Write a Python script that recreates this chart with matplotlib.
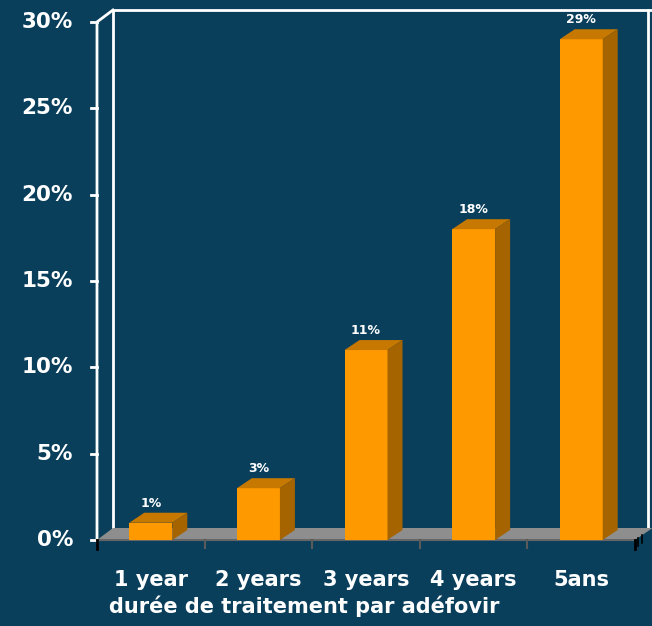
import matplotlib
matplotlib.use("Agg")
import matplotlib.pyplot as plt
from matplotlib.patches import Polygon, Rectangle

categories = ["1 year", "2 years", "3 years", "4 years", "5ans"]
values = [1, 3, 11, 18, 29]
value_labels = ["1%", "3%", "11%", "18%", "29%"]
yticks = [0, 5, 10, 15, 20, 25, 30]
xlabel = "durée de traitement par adéfovir"

bg = "#0a3f5c"
orange = "#ff9900"
orange_top = "#c77800"
orange_side = "#a56400"
floor_c = "#8e8e8e"

# pixel -> data mapping (category width 107.6 px, 1% = 17.27 px)
PX = 107.6
PY = 17.267
X0 = 150.8
Y0 = 540

fig = plt.figure(figsize=(6.52, 6.26), dpi=100, facecolor=bg)
ax = fig.add_axes([0, 0, 1, 1])
ax.set_facecolor(bg)
ax.set_xlim((0 - X0) / PX, (652 - X0) / PX)
ax.set_ylim((Y0 - 626) / PY, Y0 / PY)
ax.axis("off")

n = len(categories)
left, right = -0.5, n - 0.5
ymax = yticks[-1]
wx, wy = 16 / PX, 12 / PY       # wall depth
bw = 43 / PX                     # bar width
dx, dy = 15 / PX, 10 / PY        # bar depth

# back wall outline
ax.plot([left + wx, left + wx, 10], [wy, ymax + wy, ymax + wy], color="white", lw=2)
ax.plot([right + wx * 0.8, right + wx * 0.8], [wy, ymax + wy], color="white", lw=2)
# side wall / y axis
ax.plot([left, left, left + wx], [0, ymax, ymax + wy], color="white", lw=2)

# floor
ax.add_patch(Polygon([(left, 0), (right, 0), (right + wx * 1.1, wy), (left + wx, wy)],
                     closed=True, facecolor=floor_c, edgecolor="none", zorder=2))
ax.plot([left, right], [0, 0], color="#666666", lw=1.5, zorder=3)
for b in range(1, n):
    ax.plot([b - 0.5, b - 0.5], [0, -8 / PY], color="#5a5a5a", lw=1.5, zorder=3)
for b in [left, right]:
    ax.plot([b, b], [0, -9 / PY], color="black", lw=2, zorder=3)
ax.plot([right + 3 / PX, right + 3 / PX], [2 / PY, -6 / PY], color="black", lw=1.2, zorder=3)
ax.plot([right + 7 / PX, right + 7 / PX], [5 / PY, -3 / PY], color="black", lw=1.2, zorder=3)

# y ticks and labels
for t in yticks:
    ax.plot([left - 6 / PX, left], [t, t], color="white", lw=2)
    ax.text((73 - X0) / PX, t, f"{t}%", color="white", fontsize=15.5,
            fontweight="bold", ha="right", va="center")

# bars
for i, v in enumerate(values):
    x1, x2 = i - bw / 2, i + bw / 2
    ax.add_patch(Rectangle((x1, 0), bw, v, facecolor=orange, edgecolor="none", zorder=4))
    ax.add_patch(Polygon([(x1, v), (x2, v), (x2 + dx, v + dy), (x1 + dx, v + dy)],
                         closed=True, facecolor=orange_top, edgecolor="none", zorder=4))
    ax.add_patch(Polygon([(x2, 0), (x2 + dx, dy), (x2 + dx, v + dy), (x2, v)],
                         closed=True, facecolor=orange_side, edgecolor="none", zorder=4))
    ax.text(i, v + dy + 3 / PY, value_labels[i], color="white", fontsize=9,
            fontweight="bold", ha="center", va="bottom", zorder=5)

# category labels
for i, c in enumerate(categories):
    ax.text(i, (Y0 - 580) / PY, c, color="white", fontsize=15, fontweight="bold",
            ha="center", va="center")
ax.text((304 - X0) / PX, (Y0 - 606) / PY, xlabel, color="white", fontsize=15,
        fontweight="bold", ha="center", va="center")

fig.savefig("out.png", dpi=100, facecolor=bg)
